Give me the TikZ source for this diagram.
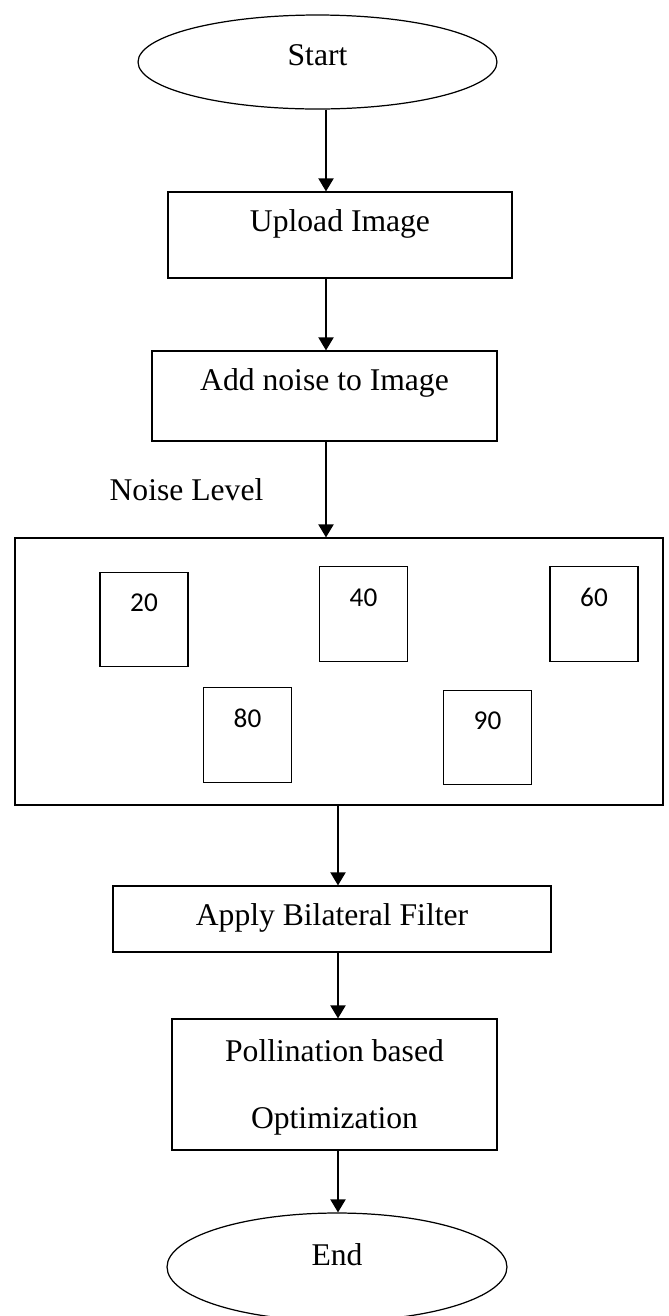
\documentclass[tikz,border=0pt]{standalone}
\usepackage{fontspec}
\setmainfont{Liberation Serif}
\newfontfamily\numfont{Carlito}
\usepackage{tikz}
\usetikzlibrary{arrows.meta, shapes.geometric}

\begin{document}
\begin{tikzpicture}[x=0.02cm, y=-0.02cm, >={Triangle[length=0.26cm, width=0.3cm]},
      flow/.style={->, line width=1.1pt},
      terminal/.style={draw, ellipse, line width=0.7pt, inner sep=0pt, font=\fontsize{18}{21}\selectfont,
        text height=0.42cm},
      procbox/.style={draw, rectangle, line width=0.7pt, inner sep=0pt, align=center,
        font=\fontsize{18}{21}\selectfont, text height=0.79cm},
      levelbox/.style={draw, rectangle, line width=0.7pt, inner sep=0pt, minimum width=1.76cm,
        font=\numfont\fontsize{15.5}{18}\selectfont, text height=0.79cm, text depth=1.1cm}]
    \useasboundingbox (0,0) rectangle (669,1316);
    \node[terminal, minimum width=7.18cm, minimum height=1.88cm, text depth=0.3cm] (start) at (317.5,62) {Start};
    \node[procbox, minimum width=6.88cm, text depth=0.93cm] (upload) at (340,235) {Upload Image};
    \node[procbox, minimum width=6.9cm, text depth=1.01cm] (noise) at (324.5,396) {Add noise to Image};
    \node[inner sep=0pt, font=\fontsize{18}{21}\selectfont] (noiselabel) at (186.5,489.5) {Noise Level};
    \node[draw, rectangle, line width=0.7pt, minimum width=12.96cm, minimum height=5.34cm] (levels) at (339,671.5) {};
    \node[levelbox] (l20) at (144,619.5) {20};
    \node[levelbox] (l40) at (363.5,614) {40};
    \node[levelbox] (l60) at (594,614) {60};
    \node[levelbox] (l80) at (247.5,735) {80};
    \node[levelbox] (l90) at (487.5,737.5) {90};
    \node[procbox, minimum width=8.76cm, text depth=0.53cm] (filter) at (332,919) {Apply Bilateral Filter};
    \node[procbox, minimum width=6.5cm, text height=2.18cm, text depth=0.44cm] (pollination) at (334.5,1084.5) {Pollination based\\[0.6cm]Optimization};
    \node[terminal, minimum width=6.8cm, minimum height=2.16cm, text depth=0.5cm] (end) at (337,1267) {End};
    \coordinate (axisA) at (326,0);
    \coordinate (axisB) at (338,0);
    \draw[flow] (start.south -| axisA) -- (upload.north -| axisA);
    \draw[flow] (upload.south -| axisA) -- (noise.north -| axisA);
    \draw[flow] (noise.south -| axisA) -- (levels.north -| axisA);
    \draw[flow] (levels.south -| axisB) -- (filter.north -| axisB);
    \draw[flow] (filter.south -| axisB) -- (pollination.north -| axisB);
    \draw[flow] (pollination.south -| axisB) -- (end.north -| axisB);
  \end{tikzpicture}
\end{document}
